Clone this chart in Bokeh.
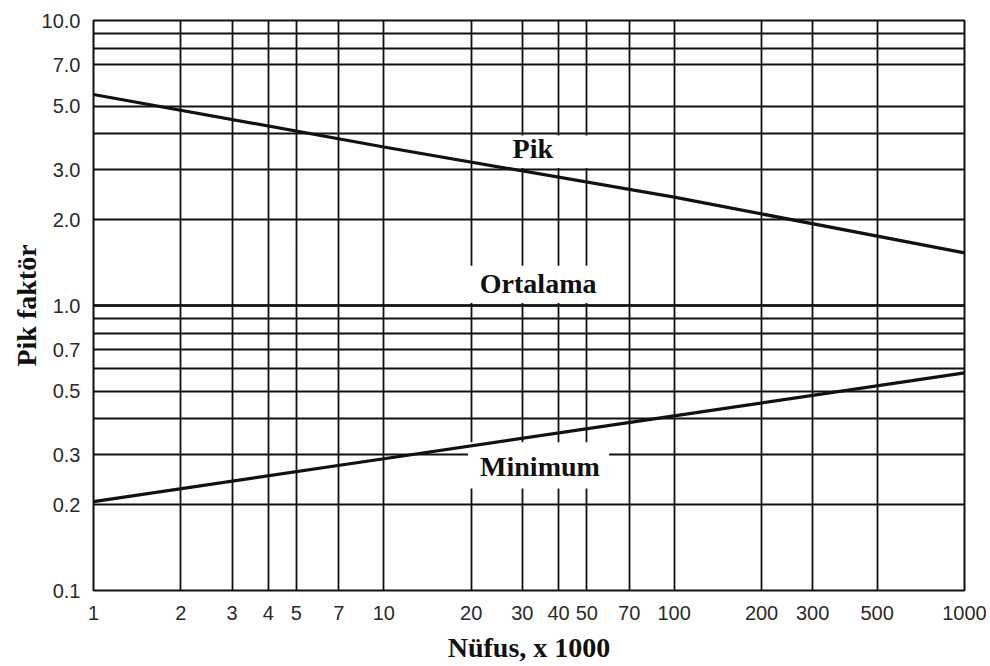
from bokeh.plotting import figure
from bokeh.models import Range1d, FixedTicker, Label, BoxAnnotation
from bokeh.embed import file_html
from bokeh.resources import INLINE

# Data
population = [1, 10, 100, 1000]          # x 1000
peak_factor = [5.5, 3.6, 2.4, 1.53]
min_factor = [0.205, 0.29, 0.41, 0.58]
avg_factor = [1.0, 1.0, 1.0, 1.0]

x_ticks = [1, 2, 3, 4, 5, 7, 10, 20, 30, 40, 50, 70, 100, 200, 300, 500, 1000]
y_label_ticks = [0.1, 0.2, 0.3, 0.5, 0.7, 1.0, 2.0, 3.0, 5.0, 7.0, 10.0]
y_grid_ticks = [0.1, 0.2, 0.3, 0.4, 0.5, 0.6, 0.7, 0.8, 0.9, 1.0, 2.0, 3.0, 4.0, 5.0, 7.0, 8.0, 9.0, 10.0]

p = figure(width=990, height=666, x_axis_type="log", y_axis_type="log",
           x_range=Range1d(1, 1000), y_range=Range1d(0.1, 10),
           output_backend="svg", toolbar_location=None,
           min_border_left=93, min_border_right=26, min_border_top=20, min_border_bottom=76)
p.background_fill_color = "white"
p.border_fill_color = "white"
p.outline_line_color = "#111111"
p.outline_line_width = 2

# grid
p.xgrid.ticker = FixedTicker(ticks=x_ticks)
p.ygrid.ticker = FixedTicker(ticks=y_grid_ticks)
for g in (p.xgrid, p.ygrid):
    g.grid_line_color = "#111111"
    g.grid_line_width = 1.8
    g.grid_line_alpha = 1.0
    g.minor_grid_line_color = None

# axes
p.xaxis.ticker = FixedTicker(ticks=x_ticks)
p.xaxis.major_label_overrides = {t: str(t) for t in x_ticks}
p.yaxis.ticker = FixedTicker(ticks=y_label_ticks)
p.yaxis.major_label_overrides = {t: f"{t:.1f}" for t in y_label_ticks}
for ax in (p.xaxis, p.yaxis):
    ax.axis_line_color = None
    ax.major_tick_line_color = None
    ax.minor_tick_line_color = None
    ax.major_label_text_font = "Liberation Sans"
    ax.major_label_text_font_size = "20px"
    ax.major_label_text_color = "#2a2a2a"
    ax.axis_label_text_font = "Liberation Serif"
    ax.axis_label_text_font_style = "bold"
    ax.axis_label_text_font_size = "28px"
    ax.axis_label_text_color = "#111111"
p.xaxis.major_label_standoff = 9
p.yaxis.major_label_standoff = 7
p.xaxis.axis_label = "Nüfus, x 1000"
p.yaxis.axis_label = "Pik faktör"
p.xaxis.axis_label_standoff = 9
p.yaxis.axis_label_standoff = -3

# white boxes that interrupt the grid behind the curve labels
box_kw = dict(fill_color="white", fill_alpha=1.0, line_color=None, level="underlay")
p.add_layout(BoxAnnotation(left=21.3, right=68, bottom=3.04, top=3.95, **box_kw))
p.add_layout(BoxAnnotation(left=19.2, right=58.3, bottom=1.02, top=1.38, **box_kw))
p.add_layout(BoxAnnotation(left=19.5, right=59.7, bottom=0.228, top=0.331, **box_kw))

# curve labels
lab_kw = dict(text_font="Liberation Serif", text_font_style="bold", text_font_size="28px",
              text_color="#111111", text_align="center", text_baseline="middle")
p.add_layout(Label(x=32.6, y=3.55, text="Pik", **lab_kw))
p.add_layout(Label(x=34.0, y=1.195, text="Ortalama", **lab_kw))
p.add_layout(Label(x=34.5, y=0.272, text="Minimum", **lab_kw))

# curves
p.line(population, peak_factor, line_color="#111111", line_width=3.2)
p.line(population, min_factor, line_color="#111111", line_width=3.2)
p.line(population, avg_factor, line_color="#111111", line_width=2.6)

open("out.html", "w").write(file_html(p, INLINE))
